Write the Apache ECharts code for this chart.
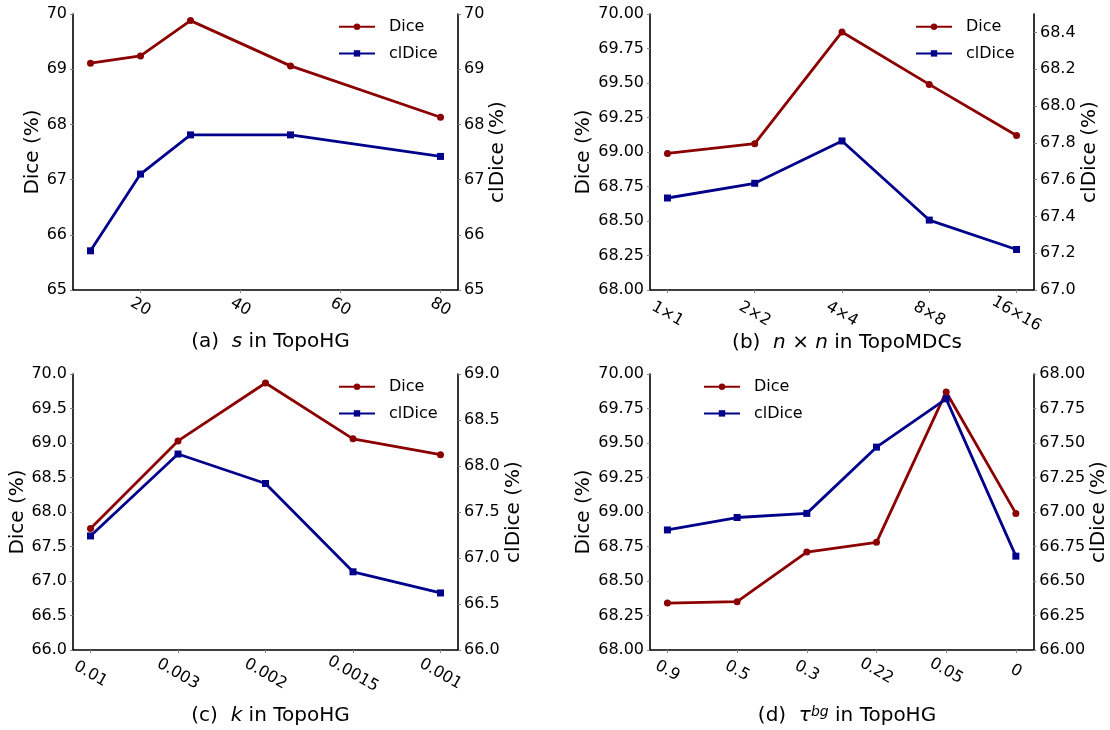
<!DOCTYPE html>
<html><head><meta charset="utf-8">
<script src="https://cdn.jsdelivr.net/npm/echarts@6/dist/echarts.min.js"></script>
<style>html,body{margin:0;padding:0;background:#fff}#c{width:1110px;height:730px}</style>
</head><body><div id="c"></div>
<script>
// (a) s in TopoHG
const sValues = [10, 20, 30, 50, 80];
const diceA = [69.11, 69.24, 69.88, 69.06, 68.13];
const clDiceA = [65.71, 67.10, 67.81, 67.81, 67.42];
const xTicksA = [20, 40, 60, 80];
const leftTicksA = [65, 66, 67, 68, 69, 70];
const rightTicksA = [65, 66, 67, 68, 69, 70];

// (b) n x n in TopoMDCs
const catsB = ['1×1', '2×2', '4×4', '8×8', '16×16'];
const diceB = [68.99, 69.06, 69.87, 69.49, 69.12];
const clDiceB = [67.50, 67.58, 67.81, 67.38, 67.22];
const leftTicksB = [68.00, 68.25, 68.50, 68.75, 69.00, 69.25, 69.50, 69.75, 70.00];
const rightTicksB = [67.0, 67.2, 67.4, 67.6, 67.8, 68.0, 68.2, 68.4];

// (c) k in TopoHG
const catsC = ['0.01', '0.003', '0.002', '0.0015', '0.001'];
const diceC = [67.76, 69.03, 69.87, 69.06, 68.83];
const clDiceC = [67.24, 68.13, 67.81, 66.85, 66.62];
const leftTicksC = [66.0, 66.5, 67.0, 67.5, 68.0, 68.5, 69.0, 69.5, 70.0];
const rightTicksC = [66.0, 66.5, 67.0, 67.5, 68.0, 68.5, 69.0];

// (d) tau^bg in TopoHG
const catsD = ['0.9', '0.5', '0.3', '0.22', '0.05', '0'];
const diceD = [68.34, 68.35, 68.71, 68.78, 69.87, 68.99];
const clDiceD = [66.87, 66.96, 66.99, 67.47, 67.82, 66.68];
const leftTicksD = [68.00, 68.25, 68.50, 68.75, 69.00, 69.25, 69.50, 69.75, 70.00];
const rightTicksD = [66.00, 66.25, 66.50, 66.75, 67.00, 67.25, 67.50, 67.75, 68.00];

const FONT = 'DejaVu Sans';
const RED = '#8b0000', BLUE = '#00008b';

const grids = [
  {left: 73, top: 14, width: 385, height: 276},
  {left: 650, top: 14, width: 384, height: 276},
  {left: 73, top: 374, width: 385, height: 276},
  {left: 650, top: 374, width: 384, height: 276}
];

function xAxis(gi, min, max, ticks, fmt, margin) {
  return {
    type: 'value', gridIndex: gi, min: min, max: max,
    splitLine: {show: false},
    axisLine: {onZero: false, lineStyle: {color: '#000', width: 1.6}},
    axisTick: {customValues: ticks, length: 3, lineStyle: {color: '#888', width: 1}},
    axisLabel: {customValues: ticks, formatter: fmt, rotate: -30, align: 'center', verticalAlign: 'middle',
      margin: margin, fontFamily: FONT, fontSize: 16, color: '#000'}
  };
}
function yAxis(gi, pos, ticks, dec, name, gap) {
  return {
    type: 'value', gridIndex: gi, position: pos,
    min: ticks[0], max: pos === 'right' && gi === 1 ? 68.5 : ticks[ticks.length - 1],
    splitLine: {show: false},
    axisLine: {show: true, onZero: false, lineStyle: {color: '#000', width: 1.6}},
    axisTick: {show: true, customValues: ticks, length: 3, lineStyle: {color: '#888', width: 1}},
    axisLabel: {customValues: ticks, formatter: v => v.toFixed(dec), margin: 6,
      fontFamily: FONT, fontSize: 16, color: '#000'},
    name: name, nameLocation: 'middle', nameRotate: 90, nameGap: gap,
    nameTextStyle: {fontFamily: FONT, fontSize: 20, color: '#000'}
  };
}
function series(name, xi, yi, xs, ys) {
  const isDice = name === 'Dice';
  return {
    name: name, type: 'line', xAxisIndex: xi, yAxisIndex: yi,
    data: xs.map((x, i) => [x, ys[i]]),
    symbol: isDice ? 'circle' : 'rect', symbolSize: 7, showSymbol: true,
    lineStyle: {width: 2.8, color: isDice ? RED : BLUE},
    itemStyle: {color: isDice ? RED : BLUE},
    animation: false
  };
}
// category positions 1..n (zero kept outside the x range)
const pos = n => Array.from({length: n}, (_, i) => i + 1);

const rich = {
  i: {fontFamily: FONT, fontSize: 20, fontStyle: 'italic', color: '#000'},
  sup: {fontFamily: FONT, fontSize: 14, fontStyle: 'italic', color: '#000', verticalAlign: 'top', padding: [0, 0, 8, 0]}
};
function title(text, x, y) {
  return {text: text, left: x, top: y, textAlign: 'center',
    textStyle: {fontFamily: FONT, fontSize: 20, fontWeight: 'normal', color: '#000', rich: rich}};
}
function legend(x, y) {
  return {
    data: ['Dice', 'clDice'], orient: 'vertical', left: x, top: y, padding: 0,
    itemWidth: 36, itemHeight: 8, itemGap: 10.7, selectedMode: false,
    textStyle: {fontFamily: FONT, fontSize: 16, color: '#000', lineHeight: 16, padding: [0, 0, 0, 9]}
  };
}

const option = {
  backgroundColor: '#fff',
  animation: false,
  grid: grids,
  title: [
    title('(a)  {i|s} in TopoHG', 265.5, 327),
    title('(b)  {i|n} × {i|n} in TopoMDCs', 842, 328),
    title('(c)  {i|k} in TopoHG', 265.5, 701),
    title('(d)  {i|τ}{sup|bg} in TopoHG', 842, 700)
  ],
  legend: [legend(338, 18.7), legend(915, 18.7), legend(338, 378.7), legend(703, 378.7)],
  xAxis: [
    xAxis(0, 6.5, 83.5, xTicksA, v => String(v), 17),
    xAxis(1, 0.8, 5.2, pos(catsB.length), v => catsB[Math.round(v) - 1], 24),
    xAxis(2, 0.8, 5.2, pos(catsC.length), v => catsC[Math.round(v) - 1], 24),
    xAxis(3, 0.75, 6.25, pos(catsD.length), v => catsD[Math.round(v) - 1], 21)
  ],
  yAxis: [
    yAxis(0, 'left', leftTicksA, 0, 'Dice (%)', 28),
    yAxis(0, 'right', rightTicksA, 0, 'clDice (%)', 28),
    yAxis(1, 'left', leftTicksB, 2, 'Dice (%)', 55),
    yAxis(1, 'right', rightTicksB, 1, 'clDice (%)', 44),
    yAxis(2, 'left', leftTicksC, 1, 'Dice (%)', 44),
    yAxis(2, 'right', rightTicksC, 1, 'clDice (%)', 43),
    yAxis(3, 'left', leftTicksD, 2, 'Dice (%)', 55),
    yAxis(3, 'right', rightTicksD, 2, 'clDice (%)', 54)
  ],
  series: [
    series('Dice', 0, 0, sValues, diceA),
    series('clDice', 0, 1, sValues, clDiceA),
    series('Dice', 1, 2, pos(catsB.length), diceB),
    series('clDice', 1, 3, pos(catsB.length), clDiceB),
    series('Dice', 2, 4, pos(catsC.length), diceC),
    series('clDice', 2, 5, pos(catsC.length), clDiceC),
    series('Dice', 3, 6, pos(catsD.length), diceD),
    series('clDice', 3, 7, pos(catsD.length), clDiceD)
  ]
};
const chart = echarts.init(document.getElementById('c'), null, {renderer: 'canvas'});
chart.setOption(option);
</script></body></html>
